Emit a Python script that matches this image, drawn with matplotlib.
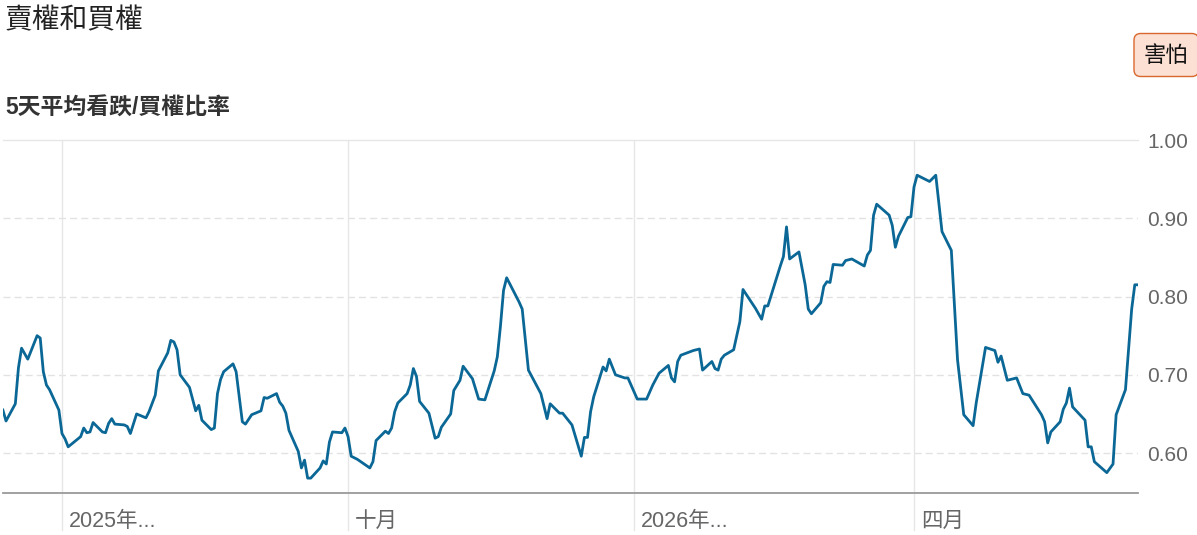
import matplotlib
matplotlib.use('Agg')
import matplotlib.pyplot as plt
import matplotlib.transforms as mtrans
import pandas as pd

plt.rcParams['font.family'] = ['Liberation Sans', 'Noto Sans CJK TC', 'DejaVu Sans']

# 5-day average put/call ratio
dates = [
    '2025-06-12', '2025-06-13', '2025-06-16', '2025-06-17', '2025-06-18', '2025-06-20',
    '2025-06-23', '2025-06-24', '2025-06-25', '2025-06-26', '2025-06-27', '2025-06-30',
    '2025-07-01', '2025-07-02', '2025-07-03', '2025-07-07', '2025-07-08', '2025-07-09',
    '2025-07-10', '2025-07-11', '2025-07-14', '2025-07-15', '2025-07-16', '2025-07-17',
    '2025-07-18', '2025-07-21', '2025-07-22', '2025-07-23', '2025-07-25', '2025-07-28',
    '2025-07-29', '2025-07-31', '2025-08-01', '2025-08-04', '2025-08-05', '2025-08-06',
    '2025-08-07', '2025-08-08', '2025-08-11', '2025-08-13', '2025-08-14', '2025-08-15',
    '2025-08-18', '2025-08-19', '2025-08-20', '2025-08-21', '2025-08-22', '2025-08-25',
    '2025-08-26', '2025-08-28', '2025-08-29', '2025-08-31', '2025-09-03', '2025-09-04',
    '2025-09-05', '2025-09-08', '2025-09-09', '2025-09-10', '2025-09-11', '2025-09-12',
    '2025-09-15', '2025-09-16', '2025-09-17', '2025-09-18', '2025-09-19', '2025-09-22',
    '2025-09-23', '2025-09-24', '2025-09-25', '2025-09-26', '2025-09-29', '2025-09-30',
    '2025-10-01', '2025-10-02', '2025-10-04', '2025-10-08', '2025-10-09', '2025-10-10',
    '2025-10-13', '2025-10-14', '2025-10-15', '2025-10-16', '2025-10-17', '2025-10-20',
    '2025-10-21', '2025-10-22', '2025-10-23', '2025-10-24', '2025-10-27', '2025-10-29',
    '2025-10-30', '2025-10-31', '2025-11-03', '2025-11-04', '2025-11-06', '2025-11-07',
    '2025-11-10', '2025-11-12', '2025-11-14', '2025-11-17', '2025-11-18', '2025-11-19',
    '2025-11-20', '2025-11-21', '2025-11-25', '2025-11-26', '2025-11-28', '2025-12-02',
    '2025-12-04', '2025-12-05', '2025-12-08', '2025-12-09', '2025-12-12', '2025-12-15',
    '2025-12-16', '2025-12-17', '2025-12-18', '2025-12-19', '2025-12-22', '2025-12-23',
    '2025-12-24', '2025-12-26', '2025-12-29', '2025-12-30', '2026-01-02', '2026-01-05',
    '2026-01-07', '2026-01-09', '2026-01-12', '2026-01-13', '2026-01-14', '2026-01-15',
    '2026-01-16', '2026-01-20', '2026-01-22', '2026-01-23', '2026-01-26', '2026-01-27',
    '2026-01-28', '2026-01-29', '2026-01-30', '2026-02-02', '2026-02-04', '2026-02-05',
    '2026-02-09', '2026-02-11', '2026-02-12', '2026-02-13', '2026-02-17', '2026-02-18',
    '2026-02-19', '2026-02-20', '2026-02-23', '2026-02-25', '2026-02-26', '2026-02-27',
    '2026-03-02', '2026-03-03', '2026-03-04', '2026-03-05', '2026-03-06', '2026-03-09',
    '2026-03-10', '2026-03-12', '2026-03-16', '2026-03-17', '2026-03-18', '2026-03-19',
    '2026-03-20', '2026-03-24', '2026-03-25', '2026-03-26', '2026-03-27', '2026-03-30',
    '2026-03-31', '2026-04-01', '2026-04-02', '2026-04-06', '2026-04-08', '2026-04-10',
    '2026-04-13', '2026-04-15', '2026-04-17', '2026-04-20', '2026-04-21', '2026-04-24',
    '2026-04-27', '2026-04-28', '2026-04-29', '2026-05-01', '2026-05-04', '2026-05-06',
    '2026-05-08', '2026-05-12', '2026-05-13', '2026-05-14', '2026-05-15', '2026-05-18',
    '2026-05-19', '2026-05-20', '2026-05-21', '2026-05-22', '2026-05-26', '2026-05-27',
    '2026-05-28', '2026-05-29', '2026-06-02', '2026-06-04', '2026-06-05', '2026-06-08',
    '2026-06-10', '2026-06-11', '2026-06-12',
]
ratio = [
    0.655, 0.641, 0.663, 0.709, 0.734, 0.720,
    0.750, 0.747, 0.704, 0.687, 0.681, 0.655,
    0.625, 0.618, 0.608, 0.621, 0.632, 0.626,
    0.627, 0.639, 0.627, 0.626, 0.638, 0.644,
    0.637, 0.636, 0.634, 0.625, 0.650, 0.645,
    0.653, 0.674, 0.705, 0.728, 0.744, 0.742,
    0.732, 0.700, 0.684, 0.654, 0.661, 0.642,
    0.630, 0.632, 0.676, 0.694, 0.704, 0.714,
    0.704, 0.640, 0.637, 0.649, 0.654, 0.671,
    0.670, 0.676, 0.665, 0.660, 0.651, 0.629,
    0.602, 0.581, 0.591, 0.568, 0.568, 0.581,
    0.590, 0.586, 0.614, 0.627, 0.626, 0.632,
    0.621, 0.596, 0.592, 0.581, 0.589, 0.616,
    0.628, 0.625, 0.632, 0.653, 0.664, 0.676,
    0.687, 0.708, 0.698, 0.666, 0.651, 0.619,
    0.621, 0.633, 0.650, 0.680, 0.693, 0.711,
    0.695, 0.669, 0.668, 0.705, 0.723, 0.762,
    0.808, 0.824, 0.793, 0.784, 0.706, 0.676,
    0.644, 0.663, 0.651, 0.651, 0.636, 0.596,
    0.620, 0.620, 0.653, 0.672, 0.710, 0.705,
    0.720, 0.700, 0.696, 0.696, 0.669, 0.669,
    0.687, 0.702, 0.712, 0.696, 0.691, 0.717,
    0.725, 0.731, 0.733, 0.706, 0.717, 0.708,
    0.706, 0.720, 0.725, 0.732, 0.768, 0.809,
    0.785, 0.771, 0.788, 0.788, 0.839, 0.851,
    0.889, 0.848, 0.857, 0.815, 0.784, 0.778,
    0.792, 0.813, 0.819, 0.818, 0.841, 0.840,
    0.846, 0.848, 0.839, 0.853, 0.859, 0.904,
    0.918, 0.904, 0.891, 0.863, 0.877, 0.901,
    0.902, 0.940, 0.955, 0.947, 0.955, 0.883,
    0.859, 0.719, 0.649, 0.635, 0.664, 0.735,
    0.731, 0.716, 0.724, 0.693, 0.696, 0.676,
    0.674, 0.649, 0.640, 0.613, 0.627, 0.640,
    0.656, 0.664, 0.683, 0.659, 0.642, 0.608,
    0.608, 0.589, 0.575, 0.586, 0.649, 0.681,
    0.784, 0.815, 0.815,
]

tick_dates = ['2025-07-01', '2025-10-01', '2026-01-01', '2026-04-01']
tick_labels = ['2025年...', '十月', '2026年...', '四月']
y_ticks = [0.60, 0.70, 0.80, 0.90, 1.00]

x = pd.to_datetime(dates)
xt = pd.to_datetime(tick_dates)

fig = plt.figure(figsize=(11.97, 5.35), dpi=100)
ax = fig.add_axes([2.9 / 1197, 42 / 535, 1135 / 1197, 353 / 535])

ax.plot(x, ratio, color='#0b6896', lw=2.0, zorder=3)

ax.set_xlim(x[0], x[-1])
ax.set_ylim(0.549, 1.0)

# grid
for v in y_ticks[:-1]:
    ax.axhline(v, color='#e2e2e2', lw=1, ls=(0, (5, 3)), zorder=0)
ax.axhline(1.0, color='#e6e6e6', lw=1, zorder=0, clip_on=False)
for d in xt:
    ax.axvline(d, ymin=-0.105, ymax=1, color='#e6e6e6', lw=1, zorder=0, clip_on=False)

for s in ['top', 'left', 'right']:
    ax.spines[s].set_visible(False)
ax.spines['bottom'].set_color('#9a9a9a')
ax.spines['bottom'].set_linewidth(1.3)

ax.set_xticks(xt)
ax.set_xticklabels(tick_labels, ha='left')
ax.tick_params(axis='x', length=0, pad=13, labelsize=15.5, labelcolor='#666666')
for lbl in ax.get_xticklabels():
    lbl.set_transform(lbl.get_transform() + mtrans.ScaledTranslation(0.07, 0, fig.dpi_scale_trans))

ax.yaxis.tick_right()
ax.set_yticks(y_ticks)
ax.set_yticklabels([f'{v:.2f}' for v in y_ticks])
ax.tick_params(axis='y', length=0, pad=7, labelsize=15, labelcolor='#666666')

fig.text(5 / 1197, 1 - 20 / 535, '賣權和買權', fontsize=20, color='#222222',
         va='center', ha='left', family=['Noto Sans CJK TC', 'DejaVu Sans'])
fig.text(5 / 1197, 1 - 108 / 535, '5天平均看跌/買權比率', fontsize=16.5, fontweight='bold',
         color='#333333', va='center', ha='left',
         family=['Liberation Sans', 'Noto Sans CJK TC', 'DejaVu Sans'])
fig.text(1144 / 1197, 1 - 55 / 535, '害怕', fontsize=16, color='#111111',
         va='center', ha='left', family=['Noto Sans CJK TC', 'DejaVu Sans'],
         bbox=dict(boxstyle='round,pad=0.45,rounding_size=0.3', fc='#fde0d4',
                   ec='#d8692e', lw=1))

fig.savefig('out.png', dpi=100)
